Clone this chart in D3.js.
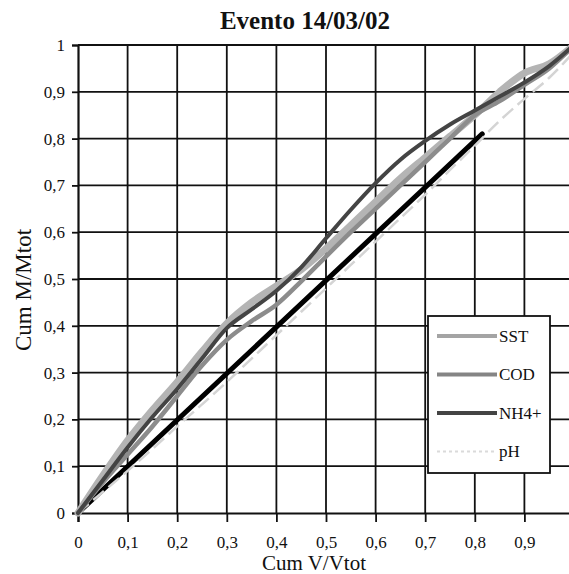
<!DOCTYPE html>
<html>
<head>
<meta charset="utf-8">
<script src="https://cdn.jsdelivr.net/npm/d3@7/dist/d3.min.js"></script>
<style>
  html, body { margin: 0; padding: 0; background: #fff; }
  svg { display: block; }
  text { font-family: "Liberation Serif", "Times New Roman", serif; fill: #111; }
</style>
</head>
<body>
<svg id="chart" width="569" height="574"></svg>
<script>
// Cumulative volume fraction (x) shared by all series
const cumV = [0, 0.05, 0.1, 0.15, 0.2, 0.25, 0.3, 0.35, 0.4, 0.45, 0.5,
              0.55, 0.6, 0.65, 0.7, 0.75, 0.8, 0.85, 0.9, 0.95, 1];

// Cumulative mass fraction for each parameter
const sst = [0, 0.08, 0.155, 0.22, 0.28, 0.345, 0.405, 0.45, 0.485, 0.52, 0.565,
             0.615, 0.665, 0.715, 0.76, 0.805, 0.85, 0.9, 0.94, 0.96, 1];
const cod = [0, 0.065, 0.125, 0.185, 0.25, 0.315, 0.37, 0.41, 0.445, 0.495, 0.548,
             0.6, 0.65, 0.7, 0.75, 0.8, 0.85, 0.88, 0.915, 0.95, 1];
const nh4 = [0, 0.07, 0.14, 0.205, 0.265, 0.33, 0.395, 0.435, 0.475, 0.525, 0.587,
             0.648, 0.705, 0.755, 0.795, 0.83, 0.86, 0.89, 0.92, 0.955, 1];
const ph  = [0, 0.045, 0.09, 0.137, 0.185, 0.232, 0.28, 0.33, 0.38, 0.43, 0.48,
             0.53, 0.58, 0.63, 0.68, 0.733, 0.785, 0.838, 0.885, 0.93, 0.985];

// Bisector reference segment
const bisectorX = [0, 0.815];
const bisectorY = [0, 0.81];

// Axis ticks and labels (the x = 1 label falls outside the page)
const tickValues = [0, 0.1, 0.2, 0.3, 0.4, 0.5, 0.6, 0.7, 0.8, 0.9, 1];
const xTickLabels = ["0", "0,1", "0,2", "0,3", "0,4", "0,5", "0,6", "0,7", "0,8", "0,9", ""];
const yTickLabels = ["0", "0,1", "0,2", "0,3", "0,4", "0,5", "0,6", "0,7", "0,8", "0,9", "1"];

const seriesNames = ["SST", "COD", "NH4+", "pH"];
const titleText = "Evento 14/03/02";
const xTitle = "Cum V/Vtot";
const yTitle = "Cum M/Mtot";

const svg = d3.select("#chart");
const margin = { left: 78, top: 45, right: 574, bottom: 513 };

const x = d3.scaleLinear().domain([0, 1]).range([margin.left, margin.right]);
const y = d3.scaleLinear().domain([0, 1]).range([margin.bottom, margin.top]);

// Grid
const grid = svg.append("g").attr("stroke", "#111").attr("stroke-width", 1.8);
grid.selectAll("line.v").data(tickValues.slice(1)).join("line")
  .attr("x1", d => x(d)).attr("x2", d => x(d))
  .attr("y1", y(0)).attr("y2", y(1));
grid.selectAll("line.h").data(tickValues.slice(1)).join("line")
  .attr("x1", x(0)).attr("x2", x(1))
  .attr("y1", d => y(d)).attr("y2", d => y(d));

// Axes
const xAxis = d3.axisBottom(x).tickValues(tickValues)
  .tickFormat((d, i) => xTickLabels[i]).tickSize(9).tickPadding(14);
const yAxis = d3.axisLeft(y).tickValues(tickValues)
  .tickFormat((d, i) => yTickLabels[i]).tickSize(6).tickPadding(7);

const gx = svg.append("g").attr("transform", `translate(0,${y(0)})`).call(xAxis);
const gy = svg.append("g").attr("transform", `translate(${x(0)},0)`).call(yAxis);
[gx, gy].forEach(g => {
  g.select(".domain").attr("stroke", "#111").attr("stroke-width", 2.2);
  g.selectAll(".tick line").attr("stroke", "#111").attr("stroke-width", 1.8);
  g.selectAll(".tick text").attr("font-size", 17)
    .attr("font-family", "Liberation Serif, serif").attr("fill", "#111");
});

// Series lines
const line = d3.line().curve(d3.curveMonotoneX);
const pts = ys => cumV.map((v, i) => [x(v), y(ys[i])]);

const plot = svg.append("g").attr("fill", "none")
  .attr("stroke-linecap", "round").attr("stroke-linejoin", "round");

plot.append("path")
  .attr("d", d3.line()(bisectorX.map((v, i) => [x(v), y(bisectorY[i])])))
  .attr("stroke", "#000").attr("stroke-width", 5);

plot.append("path").attr("d", line(pts(ph)))
  .attr("stroke", "#d4d4d4").attr("stroke-width", 2.5)
  .attr("stroke-dasharray", "14 6").attr("stroke-linecap", "butt");

const styles = [
  { name: "SST",  data: sst, color: "#b4b4b4", width: 7 },
  { name: "COD",  data: cod, color: "#8c8c8c", width: 4.5 },
  { name: "NH4+", data: nh4, color: "#444", width: 4 }
];
styles.forEach(s => {
  plot.append("path").attr("d", line(pts(s.data)))
    .attr("stroke", s.color).attr("stroke-width", s.width);
});

// Legend
const legend = svg.append("g");
legend.append("rect").attr("x", 428).attr("y", 316).attr("width", 122).attr("height", 157)
  .attr("fill", "#fff").attr("stroke", "#111").attr("stroke-width", 1.8);
const legendStyles = [
  { color: "#a4a4a4", width: 4, dash: null },
  { color: "#858585", width: 4, dash: null },
  { color: "#444", width: 4, dash: null },
  { color: "#dadada", width: 2, dash: "3 3" }
];
seriesNames.forEach((name, i) => {
  const yy = 336 + i * 38.5;
  legend.append("line").attr("x1", 437).attr("x2", 497).attr("y1", yy).attr("y2", yy)
    .attr("stroke", legendStyles[i].color).attr("stroke-width", legendStyles[i].width)
    .attr("stroke-dasharray", legendStyles[i].dash);
  legend.append("text").attr("x", 499).attr("y", yy).attr("dy", "0.35em")
    .attr("font-size", 17).text(name);
});

// Titles
svg.append("text").attr("x", 305).attr("y", 29).attr("text-anchor", "middle")
  .attr("font-size", 25).attr("font-weight", "bold").text(titleText);
svg.append("text").attr("x", 314).attr("y", 570).attr("text-anchor", "middle")
  .attr("font-size", 21).text(xTitle);
svg.append("text").attr("transform", "translate(31,290) rotate(-90)")
  .attr("text-anchor", "middle").attr("font-size", 23).text(yTitle);
</script>
</body>
</html>
